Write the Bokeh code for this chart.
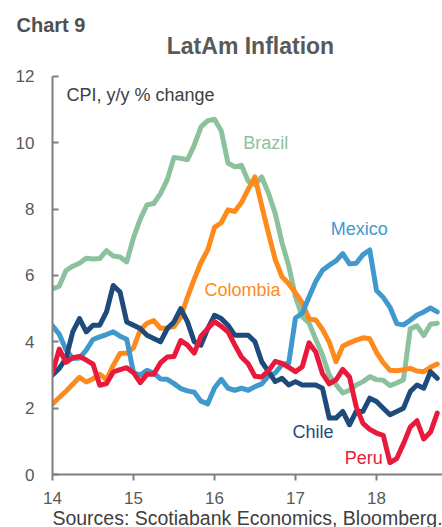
from bokeh.plotting import figure
from bokeh.models import Range1d, FixedTicker, Label, Title
from bokeh.embed import file_html
from bokeh.resources import INLINE

# Monthly CPI y/y % change, Jan 2014 - Oct 2018
brazil = [5.59, 5.68, 6.15, 6.28, 6.37, 6.52, 6.50, 6.51, 6.75, 6.59, 6.56, 6.41,
          7.14, 7.70, 8.13, 8.17, 8.47, 8.89, 9.56, 9.53, 9.49, 9.93, 10.48, 10.67,
          10.71, 10.36, 9.39, 9.28, 9.32, 8.84, 8.74, 8.97, 8.48, 7.87, 6.99, 6.29,
          5.35, 4.76, 4.57, 4.08, 3.60, 3.00, 2.71, 2.46, 2.54, 2.70, 2.80, 2.95,
          2.86, 2.84, 2.68, 2.76, 2.86, 4.39, 4.48, 4.19, 4.53, 4.56]
colombia = [2.13, 2.32, 2.51, 2.72, 2.93, 2.79, 2.89, 3.02, 2.86, 3.29, 3.65, 3.66,
            3.82, 4.36, 4.56, 4.64, 4.41, 4.42, 4.46, 4.74, 5.35, 5.89, 6.39, 6.77,
            7.45, 7.59, 7.98, 7.93, 8.20, 8.60, 8.97, 8.10, 7.27, 6.48, 5.96, 5.75,
            5.47, 5.18, 4.69, 4.66, 4.37, 3.99, 3.40, 3.87, 3.97, 4.05, 4.12, 4.09,
            3.68, 3.37, 3.14, 3.13, 3.16, 3.20, 3.12, 3.10, 3.23, 3.33]
mexico = [4.48, 4.23, 3.76, 3.50, 3.51, 3.75, 4.07, 4.15, 4.22, 4.30, 4.17, 4.08,
          3.07, 3.00, 3.14, 3.06, 2.88, 2.87, 2.74, 2.59, 2.52, 2.48, 2.21, 2.13,
          2.61, 2.87, 2.60, 2.54, 2.60, 2.54, 2.65, 2.73, 2.97, 3.06, 3.31, 3.36,
          4.72, 4.86, 5.35, 5.82, 6.16, 6.31, 6.44, 6.66, 6.35, 6.37, 6.63, 6.77,
          5.55, 5.34, 5.04, 4.55, 4.51, 4.65, 4.81, 4.90, 5.02, 4.90]
chile = [3.0, 3.2, 3.5, 4.3, 4.7, 4.3, 4.5, 4.5, 4.9, 5.7, 5.5, 4.6,
         4.5, 4.4, 4.2, 4.1, 4.0, 4.4, 4.6, 5.0, 4.6, 4.0, 3.9, 4.4,
         4.8, 4.7, 4.5, 4.2, 4.2, 4.2, 4.0, 3.4, 3.1, 2.8, 2.9, 2.7,
         2.8, 2.7, 2.7, 2.7, 2.6, 1.7, 1.7, 1.9, 1.5, 1.9, 1.9, 2.3,
         2.2, 2.0, 1.8, 1.9, 2.0, 2.5, 2.7, 2.6, 3.1, 2.9]
peru = [3.07, 3.78, 3.38, 3.52, 3.56, 3.45, 3.33, 2.69, 2.74, 3.09, 3.16, 3.22,
        3.07, 2.77, 3.02, 3.02, 3.37, 3.54, 3.56, 4.04, 3.90, 3.66, 4.17, 4.40,
        4.61, 4.47, 4.30, 3.91, 3.54, 3.34, 2.96, 2.94, 3.13, 3.41, 3.35, 3.23,
        3.10, 3.25, 3.97, 3.69, 3.04, 2.73, 2.85, 3.17, 2.94, 2.04, 1.54, 1.36,
        1.25, 1.18, 0.36, 0.48, 0.93, 1.43, 1.62, 1.07, 1.28, 1.85]

x_ticks = [14, 15, 16, 17, 18]
y_ticks = [0, 2, 4, 6, 8, 10, 12]

start_year = 14
months = [start_year + i / 12 for i in range(len(brazil))]

FONT = "Liberation Sans"
GRAY = "#595959"
AXIS = "#7f7f7f"

p = figure(frame_width=390, frame_height=439, output_backend="svg", toolbar_location=None,
           x_range=Range1d(14, 18.815), y_range=Range1d(0, 13.235),
           min_border_left=52, min_border_right=0, min_border_top=35, min_border_bottom=0)
p.outline_line_color = None
p.xgrid.visible = False
p.ygrid.visible = False
p.background_fill_color = "white"
p.border_fill_color = "white"

for ax in (p.xaxis, p.yaxis):
    ax.axis_line_color = AXIS
    ax.axis_line_width = 2
    ax.major_tick_line_color = AXIS
    ax.major_tick_line_width = 2
    ax.minor_tick_line_color = None
    ax.major_label_text_font = FONT
    ax.major_label_text_font_size = "17px"
    ax.major_label_text_color = GRAY

p.xaxis.ticker = FixedTicker(ticks=x_ticks)
p.yaxis.ticker = FixedTicker(ticks=y_ticks)
p.yaxis.bounds = (0, 12)
p.xaxis.major_tick_out = 6
p.xaxis.major_tick_in = 0
p.xaxis.major_label_standoff = 11
p.yaxis.major_tick_in = 6
p.yaxis.major_tick_out = 0
p.yaxis.major_label_standoff = 18

p.xaxis.axis_label = "Sources: Scotiabank Economics, Bloomberg."
p.xaxis.axis_label_text_font = FONT
p.xaxis.axis_label_text_font_style = "normal"
p.xaxis.axis_label_text_font_size = "19.5px"
p.xaxis.axis_label_text_color = "#404040"
p.xaxis.axis_label_standoff = 0

series = [
    ("Brazil", brazil, "#8BC29D", 16.354, 9.99),
    ("Colombia", colombia, "#FF8A1C", 15.877, 5.55),
    ("Mexico", mexico, "#3F99CC", 17.436, 7.40),
    ("Chile", chile, "#1F4B7C", 16.963, 1.29),
    ("Peru", peru, "#E8193B", 17.609, 0.50),
]
for name, vals, color, lx, ly in series:
    p.line(months, vals, line_color=color, line_width=5, line_join="round", line_cap="round")
    p.add_layout(Label(x=lx, y=ly, text=name, text_color=color, text_font=FONT,
                       text_font_size="18px", text_baseline="alphabetic", text_align="left"))

p.add_layout(Label(x=14.173, y=11.43, text="CPI, y/y % change", text_color="#404040",
                   text_font=FONT, text_font_size="18px", text_baseline="alphabetic"))
p.add_layout(Label(x=16.444, y=12.93, text="LatAm Inflation", text_color=GRAY,
                   text_font=FONT, text_font_style="bold", text_font_size="23px",
                   text_baseline="alphabetic", text_align="center"))

p.add_layout(Title(text="Chart 9", align="left", offset=-36, standoff=0,
                   text_color="#505050", text_font=FONT,
                   text_font_style="bold", text_font_size="20px"), "above")

open("out.html", "w").write(file_html(p, INLINE))
